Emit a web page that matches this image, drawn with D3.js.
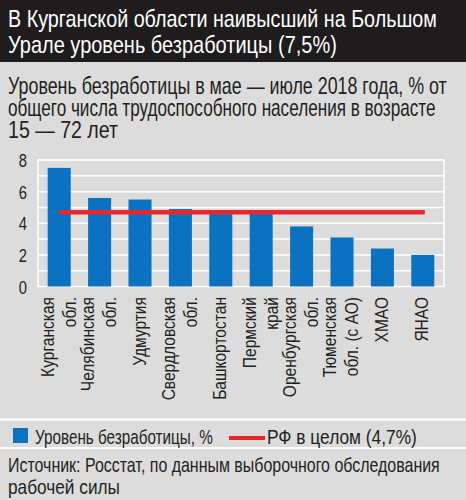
<!DOCTYPE html>
<html><head><meta charset="utf-8">
<script src="https://cdn.jsdelivr.net/npm/d3@7"></script>
<style>
html,body{margin:0;padding:0;background:#dcdcdc;}
svg{display:block;}
text{font-family:"Liberation Sans","Arimo",Arial,sans-serif;}
</style></head>
<body>
<svg id="chart" width="466" height="500"></svg>
<script>
const categories = [
  ["Курганская","обл."],
  ["Челябинская","обл."],
  ["Удмуртия"],
  ["Свердловская","обл."],
  ["Башкортостан"],
  ["Пермский","край"],
  ["Оренбургская","обл."],
  ["Тюменская","обл. (с АО)"],
  ["ХМАО"],
  ["ЯНАО"]
];
const unemployment = [7.5, 5.6, 5.5, 4.9, 4.6, 4.6, 3.8, 3.1, 2.4, 2.0];
const russiaTotal = 4.7;
const yTicks = [0, 2, 4, 6, 8];
const gridValues = [1, 2, 3, 4, 5, 6, 7, 8];
const titleLines = ["В Курганской области наивысший на Большом", "Урале уровень безработицы (7,5%)"];
const subtitleLines = ["Уровень безработицы в мае — июле 2018 года, % от", "общего числа трудоспособного населения в возрасте", "15 — 72 лет"];
const legendLabels = ["Уровень безработицы, %", "РФ в целом (4,7%)"];
const sourceLines = ["Источник: Росстат, по данным выборочного обследования", "рабочей силы"];

const W = 466, H = 500;
const svg = d3.select("#chart");
const BLUE = "#0a72c0", RED = "#e8262c", DARK = "#231f20";

// The reference uses a condensed face: draw text at (x,y), squeezed horizontally to a target width
function textAt(parent, str, px, py, size, fill, width, rotate){
  const t = parent.append("text").attr("font-size", size).attr("fill", fill).text(str);
  const w = t.node().getComputedTextLength();
  const k = width / w;
  if (rotate) {
    t.attr("text-anchor","end").attr("transform", `translate(${px},${py}) rotate(-90) scale(${k},1)`);
  } else {
    t.attr("transform", `translate(${px},${py}) scale(${k},1)`);
  }
  return t;
}

svg.append("rect").attr("width", W).attr("height", H).attr("fill", "#dcdcdc");
svg.append("rect").attr("width", W).attr("height", 62).attr("fill", "#1e1c1d");

const titleW = [429, 329];
titleLines.forEach((s,i)=>textAt(svg, s, 8, 26.5+i*26.5, 24, "#fff", titleW[i]));

const subW = [439, 428, 110];
subtitleLines.forEach((s,i)=>textAt(svg, s, 8, 94+i*22, 23, DARK, subW[i]));

const x = d3.scaleBand().domain(categories.map(d=>d.join(" "))).range([38, 444]).paddingInner(0.43).paddingOuter(0.24);
const y = d3.scaleLinear().domain([0, 8]).range([286.5, 160]);

const plot = svg.append("g");
plot.selectAll("line.grid").data(gridValues).join("line")
  .attr("x1", 38).attr("x2", 444).attr("y1", d=>y(d)).attr("y2", d=>y(d))
  .attr("stroke","#fff").attr("stroke-width",1.5);
plot.append("rect").attr("x",38).attr("y",y(8)).attr("width",406).attr("height",y(0)-y(8))
  .attr("fill","none").attr("stroke","#fff").attr("stroke-width",1.5);

plot.selectAll("rect.bar").data(unemployment).join("rect")
  .attr("class","bar")
  .attr("x",(d,i)=>x(categories[i].join(" ")))
  .attr("width", x.bandwidth())
  .attr("y", d=>y(d)).attr("height", d=>y(0)-y(d))
  .attr("fill", BLUE);

const c0 = x(categories[0].join(" ")) + x.bandwidth()/2;
const cN = x(categories[categories.length-1].join(" ")) + x.bandwidth()/2;
plot.append("line").attr("x1", c0).attr("x2", cN+2).attr("y1", y(russiaTotal)).attr("y2", y(russiaTotal))
  .attr("stroke", RED).attr("stroke-width", 4.5);

// y axis
const yAxis = d3.axisLeft(y).tickValues(yTicks).tickSize(0).tickPadding(0).tickFormat(d3.format("d"));
const ya = svg.append("g").attr("transform","translate(27,0)").call(yAxis);
ya.select(".domain").remove();
ya.selectAll("text").attr("font-size",18.5).attr("fill",DARK)
  .attr("font-family",'"Liberation Sans",Arial,sans-serif').attr("dy","0.36em")
  .attr("x", 0).attr("transform","scale(0.8,1)");

// category labels
const lab = svg.append("g");
const probe = lab.append("text").attr("font-size",17.5).text("Курганская");
const kLab = 80 / probe.node().getComputedTextLength();
probe.remove();
categories.forEach((lines,i)=>{
  const cx = x(lines.join(" ")) + x.bandwidth()/2;
  const n = lines.length;
  lines.forEach((t,j)=>{
    const bx = cx + 5.5 + (j - (n-1)/2)*22;
    const tmp = lab.append("text").attr("font-size",17.5).text(t);
    const w = tmp.node().getComputedTextLength(); tmp.remove();
    textAt(lab, t, bx, 297, 17.5, DARK, w*kLab, true);
  });
});

// separators
[419.5, 448].forEach(yy=>svg.append("line").attr("x1",0).attr("x2",W).attr("y1",yy).attr("y2",yy).attr("stroke","#fff").attr("stroke-width",2));

// legend
svg.append("rect").attr("x",13).attr("y",428).attr("width",15).attr("height",15).attr("fill",BLUE);
textAt(svg, legendLabels[0], 35, 444, 19.5, DARK, 178);
svg.append("line").attr("x1",229).attr("x2",265).attr("y1",438).attr("y2",438).attr("stroke",RED).attr("stroke-width",4);
textAt(svg, legendLabels[1], 267, 444, 19.5, DARK, 150);

const srcW = [432, 112];
sourceLines.forEach((s,i)=>textAt(svg, s, 8, 472+i*22, 20.5, DARK, srcW[i]));
</script>
</body></html>
